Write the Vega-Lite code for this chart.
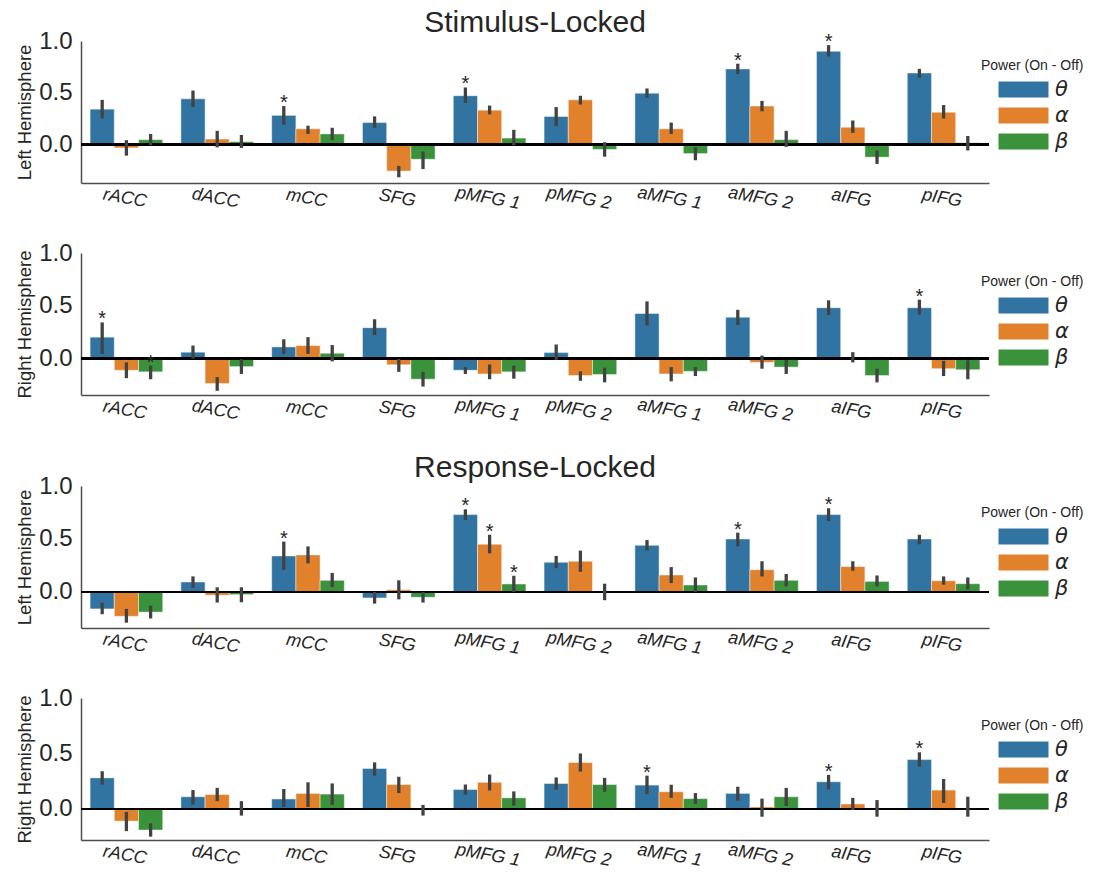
{
"$schema": "https://vega.github.io/schema/vega-lite/v6.json",
"padding": {"left": 15, "top": 8, "right": 0, "bottom": 0},
"background": "white",
"spacing": 28,
"config": {
  "view": {"stroke": null},
  "font": "Liberation Sans",
  "axis": {"grid": false, "ticks": false, "tickSize": 0, "domainColor": "#4d4d4d", "domainWidth": 1.5, "labelColor": "#262626", "titleColor": "#262626", "labelFont": "Liberation Sans", "titleFont": "Liberation Sans"},
  "legend": {"orient": "none", "legendX": 900, "legendY": 18, "titleFontSize": 14, "titleFontWeight": "normal", "titleColor": "#262626", "titleFont": "Liberation Sans", "titlePadding": 6, "labelFontSize": 21, "labelFontStyle": "italic", "labelFont": "DejaVu Sans", "labelColor": "#262626", "symbolType": "M-3,-1H3V1H-3Z", "symbolSize": 289, "symbolOpacity": 1, "symbolStrokeWidth": 1, "symbolStrokeColor": "#ffffff", "symbolOffset": 32, "labelOffset": 21, "rowPadding": 4},
  "title": {"fontSize": 30, "fontWeight": "normal", "font": "Liberation Sans", "color": "#262626", "offset": -9, "anchor": "middle"}
},
"resolve": {"scale": {"y": "independent", "color": "independent", "x": "independent", "xOffset": "independent"}, "legend": {"color": "independent"}},
"data": {"values": [
{"p":1,"r":"rACC","b":"θ","v":0.34,"lo":0.25,"hi":0.43,"s":""},
{"p":1,"r":"rACC","b":"α","v":-0.035,"lo":-0.11,"hi":0.04,"s":""},
{"p":1,"r":"rACC","b":"β","v":0.045,"lo":-0.01,"hi":0.10,"s":""},
{"p":1,"r":"dACC","b":"θ","v":0.44,"lo":0.36,"hi":0.52,"s":""},
{"p":1,"r":"dACC","b":"α","v":0.05,"lo":-0.03,"hi":0.13,"s":""},
{"p":1,"r":"dACC","b":"β","v":0.025,"lo":-0.035,"hi":0.09,"s":""},
{"p":1,"r":"mCC","b":"θ","v":0.28,"lo":0.19,"hi":0.37,"s":"*"},
{"p":1,"r":"mCC","b":"α","v":0.15,"lo":0.10,"hi":0.18,"s":""},
{"p":1,"r":"mCC","b":"β","v":0.10,"lo":0.04,"hi":0.16,"s":""},
{"p":1,"r":"SFG","b":"θ","v":0.21,"lo":0.16,"hi":0.27,"s":""},
{"p":1,"r":"SFG","b":"α","v":-0.26,"lo":-0.32,"hi":-0.21,"s":""},
{"p":1,"r":"SFG","b":"β","v":-0.145,"lo":-0.24,"hi":-0.07,"s":""},
{"p":1,"r":"pMFG 1","b":"θ","v":0.47,"lo":0.40,"hi":0.55,"s":"*"},
{"p":1,"r":"pMFG 1","b":"α","v":0.33,"lo":0.29,"hi":0.375,"s":""},
{"p":1,"r":"pMFG 1","b":"β","v":0.06,"lo":-0.01,"hi":0.14,"s":""},
{"p":1,"r":"pMFG 2","b":"θ","v":0.27,"lo":0.175,"hi":0.36,"s":""},
{"p":1,"r":"pMFG 2","b":"α","v":0.43,"lo":0.385,"hi":0.47,"s":""},
{"p":1,"r":"pMFG 2","b":"β","v":-0.05,"lo":-0.12,"hi":0.02,"s":""},
{"p":1,"r":"aMFG 1","b":"θ","v":0.495,"lo":0.45,"hi":0.54,"s":""},
{"p":1,"r":"aMFG 1","b":"α","v":0.15,"lo":0.10,"hi":0.21,"s":""},
{"p":1,"r":"aMFG 1","b":"β","v":-0.09,"lo":-0.155,"hi":-0.03,"s":""},
{"p":1,"r":"aMFG 2","b":"θ","v":0.73,"lo":0.68,"hi":0.78,"s":"*"},
{"p":1,"r":"aMFG 2","b":"α","v":0.37,"lo":0.32,"hi":0.42,"s":""},
{"p":1,"r":"aMFG 2","b":"β","v":0.045,"lo":-0.025,"hi":0.13,"s":""},
{"p":1,"r":"aIFG","b":"θ","v":0.90,"lo":0.85,"hi":0.96,"s":"*"},
{"p":1,"r":"aIFG","b":"α","v":0.165,"lo":0.11,"hi":0.23,"s":""},
{"p":1,"r":"aIFG","b":"β","v":-0.125,"lo":-0.19,"hi":-0.06,"s":""},
{"p":1,"r":"pIFG","b":"θ","v":0.69,"lo":0.645,"hi":0.73,"s":""},
{"p":1,"r":"pIFG","b":"α","v":0.31,"lo":0.25,"hi":0.38,"s":""},
{"p":1,"r":"pIFG","b":"β","v":0.015,"lo":-0.06,"hi":0.08,"s":""},
{"p":2,"r":"rACC","b":"θ","v":0.20,"lo":0.04,"hi":0.34,"s":"*"},
{"p":2,"r":"rACC","b":"α","v":-0.115,"lo":-0.19,"hi":-0.04,"s":""},
{"p":2,"r":"rACC","b":"β","v":-0.13,"lo":-0.20,"hi":-0.07,"s":"*"},
{"p":2,"r":"dACC","b":"θ","v":0.057,"lo":-0.005,"hi":0.12,"s":""},
{"p":2,"r":"dACC","b":"α","v":-0.24,"lo":-0.31,"hi":-0.18,"s":""},
{"p":2,"r":"dACC","b":"β","v":-0.08,"lo":-0.15,"hi":-0.01,"s":""},
{"p":2,"r":"mCC","b":"θ","v":0.107,"lo":0.04,"hi":0.18,"s":""},
{"p":2,"r":"mCC","b":"α","v":0.12,"lo":0.04,"hi":0.20,"s":""},
{"p":2,"r":"mCC","b":"β","v":0.047,"lo":-0.03,"hi":0.125,"s":""},
{"p":2,"r":"SFG","b":"θ","v":0.29,"lo":0.22,"hi":0.37,"s":""},
{"p":2,"r":"SFG","b":"α","v":-0.063,"lo":-0.13,"hi":-0.006,"s":""},
{"p":2,"r":"SFG","b":"β","v":-0.20,"lo":-0.27,"hi":-0.13,"s":""},
{"p":2,"r":"pMFG 1","b":"θ","v":-0.115,"lo":-0.15,"hi":-0.085,"s":""},
{"p":2,"r":"pMFG 1","b":"α","v":-0.15,"lo":-0.20,"hi":-0.06,"s":""},
{"p":2,"r":"pMFG 1","b":"β","v":-0.13,"lo":-0.195,"hi":-0.07,"s":""},
{"p":2,"r":"pMFG 2","b":"θ","v":0.053,"lo":-0.016,"hi":0.13,"s":""},
{"p":2,"r":"pMFG 2","b":"α","v":-0.165,"lo":-0.215,"hi":-0.125,"s":""},
{"p":2,"r":"pMFG 2","b":"β","v":-0.155,"lo":-0.23,"hi":-0.09,"s":""},
{"p":2,"r":"aMFG 1","b":"θ","v":0.425,"lo":0.31,"hi":0.54,"s":""},
{"p":2,"r":"aMFG 1","b":"α","v":-0.15,"lo":-0.22,"hi":-0.085,"s":""},
{"p":2,"r":"aMFG 1","b":"β","v":-0.125,"lo":-0.17,"hi":-0.085,"s":""},
{"p":2,"r":"aMFG 2","b":"θ","v":0.39,"lo":0.315,"hi":0.46,"s":""},
{"p":2,"r":"aMFG 2","b":"α","v":-0.04,"lo":-0.10,"hi":0.025,"s":""},
{"p":2,"r":"aMFG 2","b":"β","v":-0.085,"lo":-0.15,"hi":-0.016,"s":""},
{"p":2,"r":"aIFG","b":"θ","v":0.48,"lo":0.41,"hi":0.55,"s":""},
{"p":2,"r":"aIFG","b":"α","v":0.005,"lo":-0.04,"hi":0.057,"s":""},
{"p":2,"r":"aIFG","b":"β","v":-0.165,"lo":-0.23,"hi":-0.10,"s":""},
{"p":2,"r":"pIFG","b":"θ","v":0.48,"lo":0.415,"hi":0.556,"s":"*"},
{"p":2,"r":"pIFG","b":"α","v":-0.10,"lo":-0.17,"hi":-0.025,"s":""},
{"p":2,"r":"pIFG","b":"β","v":-0.11,"lo":-0.20,"hi":-0.02,"s":""},
{"p":3,"r":"rACC","b":"θ","v":-0.16,"lo":-0.21,"hi":-0.10,"s":""},
{"p":3,"r":"rACC","b":"α","v":-0.23,"lo":-0.29,"hi":-0.16,"s":""},
{"p":3,"r":"rACC","b":"β","v":-0.19,"lo":-0.25,"hi":-0.13,"s":""},
{"p":3,"r":"dACC","b":"θ","v":0.094,"lo":0.04,"hi":0.147,"s":""},
{"p":3,"r":"dACC","b":"α","v":-0.03,"lo":-0.10,"hi":0.044,"s":""},
{"p":3,"r":"dACC","b":"β","v":-0.025,"lo":-0.097,"hi":0.044,"s":""},
{"p":3,"r":"mCC","b":"θ","v":0.34,"lo":0.21,"hi":0.475,"s":"*"},
{"p":3,"r":"mCC","b":"α","v":0.35,"lo":0.27,"hi":0.43,"s":""},
{"p":3,"r":"mCC","b":"β","v":0.11,"lo":0.047,"hi":0.18,"s":""},
{"p":3,"r":"SFG","b":"θ","v":-0.056,"lo":-0.11,"hi":0.0,"s":""},
{"p":3,"r":"SFG","b":"α","v":0.02,"lo":-0.07,"hi":0.11,"s":""},
{"p":3,"r":"SFG","b":"β","v":-0.05,"lo":-0.10,"hi":0.0,"s":""},
{"p":3,"r":"pMFG 1","b":"θ","v":0.73,"lo":0.68,"hi":0.78,"s":"*"},
{"p":3,"r":"pMFG 1","b":"α","v":0.45,"lo":0.365,"hi":0.54,"s":"*"},
{"p":3,"r":"pMFG 1","b":"β","v":0.075,"lo":0.0,"hi":0.153,"s":"*"},
{"p":3,"r":"pMFG 2","b":"θ","v":0.28,"lo":0.225,"hi":0.34,"s":""},
{"p":3,"r":"pMFG 2","b":"α","v":0.29,"lo":0.19,"hi":0.39,"s":""},
{"p":3,"r":"pMFG 2","b":"β","v":-0.005,"lo":-0.078,"hi":0.078,"s":""},
{"p":3,"r":"aMFG 1","b":"θ","v":0.44,"lo":0.39,"hi":0.49,"s":""},
{"p":3,"r":"aMFG 1","b":"α","v":0.16,"lo":0.084,"hi":0.235,"s":""},
{"p":3,"r":"aMFG 1","b":"β","v":0.066,"lo":0.0,"hi":0.137,"s":""},
{"p":3,"r":"aMFG 2","b":"θ","v":0.50,"lo":0.43,"hi":0.56,"s":"*"},
{"p":3,"r":"aMFG 2","b":"α","v":0.21,"lo":0.147,"hi":0.29,"s":""},
{"p":3,"r":"aMFG 2","b":"β","v":0.11,"lo":0.053,"hi":0.17,"s":""},
{"p":3,"r":"aIFG","b":"θ","v":0.73,"lo":0.67,"hi":0.79,"s":"*"},
{"p":3,"r":"aIFG","b":"α","v":0.24,"lo":0.20,"hi":0.29,"s":""},
{"p":3,"r":"aIFG","b":"β","v":0.10,"lo":0.053,"hi":0.156,"s":""},
{"p":3,"r":"pIFG","b":"θ","v":0.50,"lo":0.45,"hi":0.54,"s":""},
{"p":3,"r":"pIFG","b":"α","v":0.106,"lo":0.069,"hi":0.147,"s":""},
{"p":3,"r":"pIFG","b":"β","v":0.078,"lo":0.022,"hi":0.137,"s":""},
{"p":4,"r":"rACC","b":"θ","v":0.28,"lo":0.22,"hi":0.34,"s":""},
{"p":4,"r":"rACC","b":"α","v":-0.11,"lo":-0.20,"hi":-0.027,"s":""},
{"p":4,"r":"rACC","b":"β","v":-0.19,"lo":-0.25,"hi":-0.13,"s":""},
{"p":4,"r":"dACC","b":"θ","v":0.11,"lo":0.04,"hi":0.17,"s":""},
{"p":4,"r":"dACC","b":"α","v":0.13,"lo":0.07,"hi":0.19,"s":""},
{"p":4,"r":"dACC","b":"β","v":-0.003,"lo":-0.06,"hi":0.07,"s":""},
{"p":4,"r":"mCC","b":"θ","v":0.09,"lo":0.018,"hi":0.18,"s":""},
{"p":4,"r":"mCC","b":"α","v":0.14,"lo":0.018,"hi":0.24,"s":""},
{"p":4,"r":"mCC","b":"β","v":0.134,"lo":0.036,"hi":0.23,"s":""},
{"p":4,"r":"SFG","b":"θ","v":0.364,"lo":0.30,"hi":0.42,"s":""},
{"p":4,"r":"SFG","b":"α","v":0.22,"lo":0.143,"hi":0.29,"s":""},
{"p":4,"r":"SFG","b":"β","v":-0.01,"lo":-0.06,"hi":0.036,"s":""},
{"p":4,"r":"pMFG 1","b":"θ","v":0.176,"lo":0.128,"hi":0.22,"s":""},
{"p":4,"r":"pMFG 1","b":"α","v":0.24,"lo":0.167,"hi":0.31,"s":""},
{"p":4,"r":"pMFG 1","b":"β","v":0.10,"lo":0.03,"hi":0.158,"s":""},
{"p":4,"r":"pMFG 2","b":"θ","v":0.23,"lo":0.173,"hi":0.284,"s":""},
{"p":4,"r":"pMFG 2","b":"α","v":0.418,"lo":0.337,"hi":0.50,"s":""},
{"p":4,"r":"pMFG 2","b":"β","v":0.22,"lo":0.155,"hi":0.28,"s":""},
{"p":4,"r":"aMFG 1","b":"θ","v":0.215,"lo":0.134,"hi":0.30,"s":"*"},
{"p":4,"r":"aMFG 1","b":"α","v":0.155,"lo":0.10,"hi":0.218,"s":""},
{"p":4,"r":"aMFG 1","b":"β","v":0.093,"lo":0.045,"hi":0.143,"s":""},
{"p":4,"r":"aMFG 2","b":"θ","v":0.14,"lo":0.075,"hi":0.20,"s":""},
{"p":4,"r":"aMFG 2","b":"α","v":0.018,"lo":-0.07,"hi":0.093,"s":""},
{"p":4,"r":"aMFG 2","b":"β","v":0.11,"lo":0.027,"hi":0.19,"s":""},
{"p":4,"r":"aIFG","b":"θ","v":0.245,"lo":0.176,"hi":0.307,"s":"*"},
{"p":4,"r":"aIFG","b":"α","v":0.045,"lo":-0.01,"hi":0.10,"s":""},
{"p":4,"r":"aIFG","b":"β","v":0.0,"lo":-0.07,"hi":0.08,"s":""},
{"p":4,"r":"pIFG","b":"θ","v":0.445,"lo":0.38,"hi":0.51,"s":"*"},
{"p":4,"r":"pIFG","b":"α","v":0.17,"lo":0.054,"hi":0.27,"s":""},
{"p":4,"r":"pIFG","b":"β","v":0.005,"lo":-0.07,"hi":0.11,"s":""}
]},
"vconcat": [
{
  "title": {"text": "Stimulus-Locked"},
  "width": 908, "height": 142,
  "transform": [{"filter": "datum.p == 1"}],
  "layer": [
    {"mark": {"type": "bar", "stroke": "#ffffff", "strokeWidth": 1, "strokeOpacity": 0.45},
     "encoding": {
       "x": {"field": "r", "type": "nominal", "sort": ["rACC","dACC","mCC","SFG","pMFG 1","pMFG 2","aMFG 1","aMFG 2","aIFG","pIFG"], "scale": {"paddingInner": 0.2, "paddingOuter": 0.1}, "axis": {"title": null, "labelFontSize": 18, "labelFontStyle": "italic", "labelAngle": 10, "labelAlign": "center", "labelBaseline": "top", "labelPadding": 6}},
       "xOffset": {"field": "b", "type": "nominal", "sort": ["θ","α","β"], "scale": {"paddingInner": 0, "paddingOuter": 0}},
       "y": {"field": "v", "type": "quantitative", "scale": {"domain": [-0.375, 1], "nice": false, "zero": false}, "axis": {"title": "Left Hemisphere", "titleFontSize": 18.5, "titleFontWeight": "normal", "titlePadding": 4, "values": [0, 0.5, 1], "format": ".1f", "labelFontSize": 24, "labelPadding": 9}},
       "color": {"field": "b", "type": "nominal", "scale": {"domain": ["θ","α","β"], "range": ["#3274a1","#e1812c","#3a923a"]}, "legend": {"title": "Power (On - Off)", "legendY": 18}}
     }},
    {"mark": {"type": "rule", "color": "#000000", "strokeWidth": 2}, "encoding": {"y": {"datum": 0}}},
    {"mark": {"type": "rule", "color": "#424242", "strokeWidth": 3.3},
     "encoding": {
       "x": {"field": "r", "type": "nominal", "sort": ["rACC","dACC","mCC","SFG","pMFG 1","pMFG 2","aMFG 1","aMFG 2","aIFG","pIFG"]},
       "xOffset": {"field": "b", "type": "nominal", "sort": ["θ","α","β"]},
       "y": {"field": "lo", "type": "quantitative"}, "y2": {"field": "hi"}}},
    {"mark": {"type": "text", "fontSize": 20, "baseline": "alphabetic", "dy": 3, "color": "#262626"},
     "encoding": {
       "x": {"field": "r", "type": "nominal", "sort": ["rACC","dACC","mCC","SFG","pMFG 1","pMFG 2","aMFG 1","aMFG 2","aIFG","pIFG"]},
       "xOffset": {"field": "b", "type": "nominal", "sort": ["θ","α","β"]},
       "y": {"field": "hi", "type": "quantitative"}, "text": {"field": "s"}}}
  ]
},
{
  "width": 908, "height": 142,
  "transform": [{"filter": "datum.p == 2"}],
  "layer": [
    {"mark": {"type": "bar", "stroke": "#ffffff", "strokeWidth": 1, "strokeOpacity": 0.45},
     "encoding": {
       "x": {"field": "r", "type": "nominal", "sort": ["rACC","dACC","mCC","SFG","pMFG 1","pMFG 2","aMFG 1","aMFG 2","aIFG","pIFG"], "scale": {"paddingInner": 0.2, "paddingOuter": 0.1}, "axis": {"title": null, "labelFontSize": 18, "labelFontStyle": "italic", "labelAngle": 10, "labelAlign": "center", "labelBaseline": "top", "labelPadding": 6}},
       "xOffset": {"field": "b", "type": "nominal", "sort": ["θ","α","β"], "scale": {"paddingInner": 0, "paddingOuter": 0}},
       "y": {"field": "v", "type": "quantitative", "scale": {"domain": [-0.35, 1], "nice": false, "zero": false}, "axis": {"title": "Right Hemisphere", "titleFontSize": 18.5, "titleFontWeight": "normal", "titlePadding": 4, "values": [0, 0.5, 1], "format": ".1f", "labelFontSize": 24, "labelPadding": 9}},
       "color": {"field": "b", "type": "nominal", "scale": {"domain": ["θ","α","β"], "range": ["#3274a1","#e1812c","#3a923a"]}, "legend": {"title": "Power (On - Off)", "legendY": 22}}
     }},
    {"mark": {"type": "rule", "color": "#000000", "strokeWidth": 2}, "encoding": {"y": {"datum": 0}}},
    {"mark": {"type": "rule", "color": "#424242", "strokeWidth": 3.3},
     "encoding": {
       "x": {"field": "r", "type": "nominal", "sort": ["rACC","dACC","mCC","SFG","pMFG 1","pMFG 2","aMFG 1","aMFG 2","aIFG","pIFG"]},
       "xOffset": {"field": "b", "type": "nominal", "sort": ["θ","α","β"]},
       "y": {"field": "lo", "type": "quantitative"}, "y2": {"field": "hi"}}},
    {"mark": {"type": "text", "fontSize": 20, "baseline": "alphabetic", "dy": 3, "color": "#262626"},
     "encoding": {
       "x": {"field": "r", "type": "nominal", "sort": ["rACC","dACC","mCC","SFG","pMFG 1","pMFG 2","aMFG 1","aMFG 2","aIFG","pIFG"]},
       "xOffset": {"field": "b", "type": "nominal", "sort": ["θ","α","β"]},
       "y": {"field": "hi", "type": "quantitative"}, "text": {"field": "s"}}}
  ]
},
{
  "title": {"text": "Response-Locked"},
  "width": 908, "height": 142,
  "transform": [{"filter": "datum.p == 3"}],
  "layer": [
    {"mark": {"type": "bar", "stroke": "#ffffff", "strokeWidth": 1, "strokeOpacity": 0.45},
     "encoding": {
       "x": {"field": "r", "type": "nominal", "sort": ["rACC","dACC","mCC","SFG","pMFG 1","pMFG 2","aMFG 1","aMFG 2","aIFG","pIFG"], "scale": {"paddingInner": 0.2, "paddingOuter": 0.1}, "axis": {"title": null, "labelFontSize": 18, "labelFontStyle": "italic", "labelAngle": 10, "labelAlign": "center", "labelBaseline": "top", "labelPadding": 6}},
       "xOffset": {"field": "b", "type": "nominal", "sort": ["θ","α","β"], "scale": {"paddingInner": 0, "paddingOuter": 0}},
       "y": {"field": "v", "type": "quantitative", "scale": {"domain": [-0.34, 1], "nice": false, "zero": false}, "axis": {"title": "Left Hemisphere", "titleFontSize": 18.5, "titleFontWeight": "normal", "titlePadding": 4, "values": [0, 0.5, 1], "format": ".1f", "labelFontSize": 24, "labelPadding": 9}},
       "color": {"field": "b", "type": "nominal", "scale": {"domain": ["θ","α","β"], "range": ["#3274a1","#e1812c","#3a923a"]}, "legend": {"title": "Power (On - Off)", "legendY": 20}}
     }},
    {"mark": {"type": "rule", "color": "#000000", "strokeWidth": 2}, "encoding": {"y": {"datum": 0}}},
    {"mark": {"type": "rule", "color": "#424242", "strokeWidth": 3.3},
     "encoding": {
       "x": {"field": "r", "type": "nominal", "sort": ["rACC","dACC","mCC","SFG","pMFG 1","pMFG 2","aMFG 1","aMFG 2","aIFG","pIFG"]},
       "xOffset": {"field": "b", "type": "nominal", "sort": ["θ","α","β"]},
       "y": {"field": "lo", "type": "quantitative"}, "y2": {"field": "hi"}}},
    {"mark": {"type": "text", "fontSize": 20, "baseline": "alphabetic", "dy": 3, "color": "#262626"},
     "encoding": {
       "x": {"field": "r", "type": "nominal", "sort": ["rACC","dACC","mCC","SFG","pMFG 1","pMFG 2","aMFG 1","aMFG 2","aIFG","pIFG"]},
       "xOffset": {"field": "b", "type": "nominal", "sort": ["θ","α","β"]},
       "y": {"field": "hi", "type": "quantitative"}, "text": {"field": "s"}}}
  ]
},
{
  "width": 908, "height": 142,
  "transform": [{"filter": "datum.p == 4"}],
  "layer": [
    {"mark": {"type": "bar", "stroke": "#ffffff", "strokeWidth": 1, "strokeOpacity": 0.45},
     "encoding": {
       "x": {"field": "r", "type": "nominal", "sort": ["rACC","dACC","mCC","SFG","pMFG 1","pMFG 2","aMFG 1","aMFG 2","aIFG","pIFG"], "scale": {"paddingInner": 0.2, "paddingOuter": 0.1}, "axis": {"title": null, "labelFontSize": 18, "labelFontStyle": "italic", "labelAngle": 10, "labelAlign": "center", "labelBaseline": "top", "labelPadding": 6}},
       "xOffset": {"field": "b", "type": "nominal", "sort": ["θ","α","β"], "scale": {"paddingInner": 0, "paddingOuter": 0}},
       "y": {"field": "v", "type": "quantitative", "scale": {"domain": [-0.28, 1], "nice": false, "zero": false}, "axis": {"title": "Right Hemisphere", "titleFontSize": 18.5, "titleFontWeight": "normal", "titlePadding": 4, "values": [0, 0.5, 1], "format": ".1f", "labelFontSize": 24, "labelPadding": 9}},
       "color": {"field": "b", "type": "nominal", "scale": {"domain": ["θ","α","β"], "range": ["#3274a1","#e1812c","#3a923a"]}, "legend": {"title": "Power (On - Off)", "legendY": 21}}
     }},
    {"mark": {"type": "rule", "color": "#000000", "strokeWidth": 2}, "encoding": {"y": {"datum": 0}}},
    {"mark": {"type": "rule", "color": "#424242", "strokeWidth": 3.3},
     "encoding": {
       "x": {"field": "r", "type": "nominal", "sort": ["rACC","dACC","mCC","SFG","pMFG 1","pMFG 2","aMFG 1","aMFG 2","aIFG","pIFG"]},
       "xOffset": {"field": "b", "type": "nominal", "sort": ["θ","α","β"]},
       "y": {"field": "lo", "type": "quantitative"}, "y2": {"field": "hi"}}},
    {"mark": {"type": "text", "fontSize": 20, "baseline": "alphabetic", "dy": 3, "color": "#262626"},
     "encoding": {
       "x": {"field": "r", "type": "nominal", "sort": ["rACC","dACC","mCC","SFG","pMFG 1","pMFG 2","aMFG 1","aMFG 2","aIFG","pIFG"]},
       "xOffset": {"field": "b", "type": "nominal", "sort": ["θ","α","β"]},
       "y": {"field": "hi", "type": "quantitative"}, "text": {"field": "s"}}}
  ]
}
]
}
